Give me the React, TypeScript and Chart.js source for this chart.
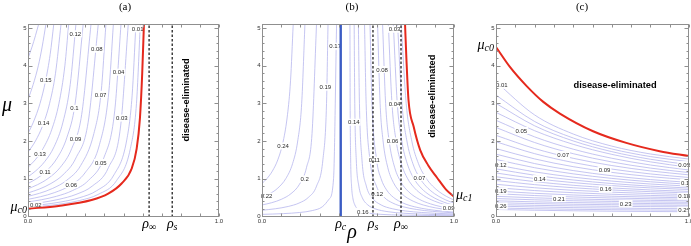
import React, { useEffect, useRef } from "react";
import { Chart, registerables } from "chart.js";

Chart.register(...registerables);

type Pt = [number, number];
type Lbl = [string, number, number];

const W = 691;
const H = 246;

// ---------- shared axes ----------
const X_TICK_LABELS: [string, number][] = [["0.0", 0], ["1.0", 1]];
const Y_TICK_VALUES = [0, 1, 2, 3, 4, 5];
const X_TICK_MARKS = [0, 0.1, 0.2, 0.3, 0.4, 0.5, 0.6, 0.7, 0.8, 0.9, 1];
const Y_MINOR_MARKS = [0.2, 0.4, 0.6, 0.8, 1.2, 1.4, 1.6, 1.8, 2.2, 2.4, 2.6, 2.8, 3.2, 3.4, 3.6, 3.8, 4.2, 4.4, 4.6, 4.8];
const X_RANGE: [number, number] = [0, 1];
const Y_RANGE: [number, number] = [-0.02, 5.11];
const ELIMINATED_TEXT = "disease-eliminated";

// ---------- panel (a) ----------
const A_CONTOURS: Pt[][] = [
  [[0, 4.2], [0.021, 4.5], [0.039, 4.8], [0.056, 5.11]],
  [[0, 3.1], [0.027, 3.5], [0.054, 4.0], [0.074, 4.5], [0.094, 5.11]],
  [[0, 2.2], [0.028, 2.5], [0.063, 3.0], [0.092, 3.6], [0.116, 4.3], [0.135, 5.11]],
  [[0, 1.7], [0.039, 2.0], [0.076, 2.4], [0.113, 3.0], [0.144, 3.8], [0.173, 5.11]],
  [[0, 1.3], [0.038, 1.5], [0.079, 1.8], [0.124, 2.3], [0.162, 3.0], [0.193, 4.0], [0.213, 5.11]],
  [[0, 1.05], [0.039, 1.2], [0.087, 1.45], [0.137, 1.85], [0.183, 2.5], [0.221, 3.5], [0.251, 5.11]],
  [[0, 0.87], [0.045, 1.0], [0.096, 1.2], [0.153, 1.55], [0.204, 2.1], [0.247, 3.0], [0.289, 5.11]],
  [[0, 0.73], [0.05, 0.84], [0.104, 1.0], [0.169, 1.3], [0.229, 1.8], [0.281, 2.7], [0.33, 5.11]],
  [[0, 0.62], [0.058, 0.72], [0.12, 0.87], [0.183, 1.1], [0.251, 1.55], [0.315, 2.5], [0.368, 5.11]],
  [[0, 0.53], [0.06, 0.61], [0.129, 0.74], [0.201, 0.95], [0.276, 1.35], [0.345, 2.2], [0.383, 3.3], [0.408, 5.11]],
  [[0, 0.45], [0.066, 0.52], [0.14, 0.63], [0.218, 0.81], [0.298, 1.15], [0.374, 1.9], [0.423, 3.3], [0.447, 5.11]],
  [[0, 0.38], [0.072, 0.44], [0.149, 0.53], [0.232, 0.68], [0.316, 0.95], [0.397, 1.55], [0.454, 2.8], [0.487, 5.11]],
  [[0, 0.32], [0.076, 0.37], [0.162, 0.45], [0.251, 0.58], [0.336, 0.8], [0.422, 1.3], [0.485, 2.4], [0.525, 5.11]],
  [[0, 0.27], [0.077, 0.31], [0.173, 0.38], [0.268, 0.49], [0.36, 0.68], [0.45, 1.1], [0.516, 2.0], [0.545, 3.2], [0.565, 5.11]],
  [[0, 0.235], [0.08, 0.27], [0.178, 0.33], [0.271, 0.42], [0.367, 0.58], [0.464, 0.95], [0.536, 1.8], [0.568, 3.0], [0.588, 5.11]],
];
const A_BOUNDARY: Pt[] = [[0, 0.2], [0.16, 0.275], [0.333, 0.43], [0.42, 0.6], [0.49, 0.87], [0.543, 1.27], [0.569, 1.8], [0.586, 2.6], [0.598, 3.8], [0.607, 5.11]];
const A_DASHED = [0.634, 0.755];
const A_SUBTICKS: [string, number][] = [["∞", 0.634], ["s", 0.755]];
const A_LABELS: Lbl[] = [
  ["0.01", 0.574, 4.98], ["0.12", 0.248, 4.85], ["0.08", 0.36, 4.44], ["0.15", 0.093, 3.62],
  ["0.04", 0.474, 3.83], ["0.07", 0.38, 3.24], ["0.1", 0.243, 2.87], ["0.03", 0.491, 2.61],
  ["0.14", 0.081, 2.47], ["0.09", 0.249, 2.07], ["0.13", 0.063, 1.67], ["0.05", 0.381, 1.43],
  ["0.11", 0.089, 1.17], ["0.06", 0.227, 0.84], ["0.02", 0.041, 0.29],
];
const A_MU_C0 = 0.2;

// ---------- panel (b) ----------
const B_CONTOURS: Pt[][] = [
  [[0, 0.87], [0.0255, 1.0], [0.0539, 1.2], [0.0823, 1.5], [0.1107, 2.0], [0.1328, 2.7], [0.1486, 3.6], [0.1626, 5.11]],
  [[0, 0.5], [0.0413, 0.6], [0.0827, 0.75], [0.124, 1.0], [0.1594, 1.4], [0.186, 2.0], [0.2067, 3.0], [0.2237, 5.11]],
  [[0, 0.3], [0.0503, 0.36], [0.1006, 0.45], [0.1509, 0.6], [0.1952, 0.85], [0.2321, 1.3], [0.2606, 2.2], [0.284, 5.11]],
  [[0, 0.16], [0.071, 0.2], [0.1365, 0.26], [0.1927, 0.35], [0.2414, 0.5], [0.284, 0.8], [0.3171, 1.5], [0.3361, 3.0], [0.3439, 5.11]],
  [[0, 0.05], [0.1121, 0.07], [0.1962, 0.1], [0.2615, 0.15], [0.3138, 0.25], [0.3487, 0.45], [0.3727, 1.0], [0.3885, 5.11]],
  [[0.458, 5.11], [0.4591, 3], [0.4618, 1.5], [0.4666, 0.8], [0.4727, 0.5], [0.4836, 0.3], [0.4972, 0.2], [0.5243, 0.12], [0.5583, 0.08], [0.6194, 0.05], [0.728, 0.03], [0.864, 0.02], [1, 0.015]],
  [[0.48, 5.11], [0.4832, 3], [0.491, 1.5], [0.5045, 0.8], [0.5217, 0.5], [0.5515, 0.3], [0.5878, 0.2], [0.657, 0.12], [0.7376, 0.08], [0.8687, 0.05], [1, 0.035]],
  [[0.502, 5.11], [0.5075, 3], [0.5207, 1.5], [0.5435, 0.8], [0.572, 0.5], [0.6207, 0.3], [0.6782, 0.2], [0.747, 0.14], [0.8316, 0.1], [0.899, 0.08], [1, 0.06]],
  [[0.534, 5.11], [0.5424, 3], [0.5623, 1.5], [0.596, 0.8], [0.6371, 0.5], [0.6814, 0.35], [0.7364, 0.25], [0.8046, 0.18], [0.8878, 0.13], [1, 0.09]],
  [[0.5625, 5.11], [0.5727, 3], [0.5969, 1.5], [0.6201, 1.0], [0.6488, 0.7], [0.685, 0.5], [0.7352, 0.35], [0.7957, 0.25], [0.868, 0.18], [0.932, 0.14], [1, 0.11]],
  [[0.602, 5.11], [0.6151, 3], [0.6306, 2], [0.6548, 1.3], [0.6839, 0.9], [0.728, 0.6], [0.7872, 0.4], [0.8396, 0.3], [0.906, 0.22], [1, 0.15]],
  [[0.628, 5.11], [0.6438, 3], [0.6623, 2], [0.6908, 1.3], [0.7247, 0.9], [0.7637, 0.65], [0.8196, 0.45], [0.877, 0.33], [0.9359, 0.25], [1, 0.19]],
  [[0.658, 5.11], [0.6769, 3], [0.6987, 2], [0.7254, 1.4], [0.7586, 1.0], [0.7943, 0.75], [0.8413, 0.55], [0.899, 0.4], [0.9588, 0.3], [1, 0.25]],
  [[0.684, 5.11], [0.7045, 3], [0.728, 2], [0.7564, 1.4], [0.7913, 1.0], [0.8285, 0.75], [0.8765, 0.55], [0.9249, 0.42], [0.9667, 0.34], [1, 0.29]],
  [[0.706, 5.11], [0.7287, 3], [0.7547, 2], [0.7857, 1.4], [0.8198, 1.03], [0.8536, 0.8], [0.8986, 0.6], [0.942, 0.47], [0.973, 0.4], [1, 0.35]],
  [[0.725, 5.11], [0.7509, 3], [0.7802, 2], [0.8148, 1.4], [0.8564, 1.0], [0.889, 0.8], [0.923, 0.65], [0.9596, 0.53], [1, 0.43]],
];
const B_BOUNDARY: Pt[] = [[0.745, 5.11], [0.752, 4.2], [0.763, 3.09], [0.79, 2.38], [0.824, 1.76], [0.866, 1.35], [0.911, 1.03], [0.96, 0.7], [1, 0.52]];
const B_RHO_C = 0.41;
const B_DASHED = [0.578, 0.724];
const B_SUBTICKS: [string, number][] = [["c", 0.41], ["s", 0.578], ["∞", 0.724]];
const B_LABELS: Lbl[] = [
  ["0.17", 0.381, 4.52], ["0.19", 0.33, 3.43], ["0.24", 0.11, 1.87], ["0.2", 0.222, 0.99],
  ["0.22", 0.024, 0.53], ["0.14", 0.478, 2.5], ["0.08", 0.625, 3.9], ["0.03", 0.69, 4.97],
  ["0.04", 0.69, 2.99], ["0.06", 0.68, 2.0], ["0.11", 0.585, 1.49], ["0.12", 0.6, 0.6],
  ["0.16", 0.525, 0.13], ["0.07", 0.82, 1.03], ["0.09", 0.972, 0.23],
];
const B_MU_C1 = 0.52;

// ---------- panel (c) ----------
const C_X = [0, 0.2, 0.4, 0.6, 0.8, 1];
const C_LEVEL_Y: number[][] = [
  [3.57, 2.693, 2.186, 1.864, 1.655, 1.52],
  [3.22, 2.519, 2.08, 1.788, 1.586, 1.45],
  [3.0, 2.405, 2.002, 1.717, 1.515, 1.37],
  [2.76, 2.274, 1.912, 1.645, 1.446, 1.3],
  [2.55, 2.11, 1.783, 1.542, 1.362, 1.23],
  [2.36, 1.96, 1.663, 1.443, 1.28, 1.16],
  [2.15, 1.8, 1.54, 1.348, 1.205, 1.1],
  [1.98, 1.664, 1.428, 1.254, 1.125, 1.03],
  [1.8, 1.524, 1.318, 1.166, 1.053, 0.97],
  [1.65, 1.4, 1.214, 1.077, 0.975, 0.9],
  [1.51, 1.29, 1.127, 1.006, 0.916, 0.85],
  [1.37, 1.18, 1.039, 0.935, 0.857, 0.8],
  [1.26, 1.09, 0.964, 0.87, 0.801, 0.75],
  [1.15, 1.003, 0.894, 0.814, 0.754, 0.71],
  [1.05, 0.92, 0.823, 0.752, 0.699, 0.66],
  [0.95, 0.84, 0.758, 0.698, 0.653, 0.62],
  [0.85, 0.758, 0.69, 0.64, 0.603, 0.575],
  [0.76, 0.683, 0.626, 0.584, 0.553, 0.53],
  [0.67, 0.61, 0.565, 0.532, 0.508, 0.49],
  [0.6, 0.55, 0.513, 0.485, 0.465, 0.45],
  [0.53, 0.49, 0.46, 0.438, 0.422, 0.41],
  [0.47, 0.437, 0.412, 0.394, 0.38, 0.37],
  [0.41, 0.383, 0.364, 0.349, 0.338, 0.33],
  [0.36, 0.337, 0.319, 0.307, 0.297, 0.29],
  [0.31, 0.29, 0.275, 0.264, 0.256, 0.25],
  [0.27, 0.247, 0.229, 0.217, 0.207, 0.2],
  [0.22, 0.2, 0.185, 0.174, 0.166, 0.16],
  [0.18, 0.16, 0.145, 0.134, 0.126, 0.12],
];
const C_BOUNDARY: Pt[] = [[0, 4.5], [0.072, 3.97], [0.159, 3.46], [0.245, 3.04], [0.331, 2.73], [0.503, 2.26], [0.675, 1.95], [0.848, 1.73], [1.0, 1.6]];
const C_LABELS: Lbl[] = [
  ["0.01", 0.03, 3.48], ["0.05", 0.131, 2.28], ["0.07", 0.348, 1.64], ["0.12", 0.025, 1.37],
  ["0.14", 0.227, 1.0], ["0.19", 0.025, 0.67], ["0.21", 0.326, 0.47], ["0.26", 0.025, 0.27],
  ["0.09", 0.562, 1.24], ["0.16", 0.568, 0.72], ["0.23", 0.672, 0.34], ["0.03", 0.975, 1.37],
  ["0.1", 0.98, 0.9], ["0.18", 0.975, 0.53], ["0.27", 0.975, 0.16],
];
const C_MU_C0 = 4.5;

// ---------- styles ----------
const FONT_SANS = '"Liberation Sans", Arial, sans-serif';
const FONT_SERIF = '"Liberation Serif", "Times New Roman", serif';
const CONTOUR_COLOR = "#b2b2ec";
const RED = "#e5291d";
const BLUE = "#3b5cc4";
const FRAME = "#8f8f8f";
const CONTOUR_ORDER = 5;

function sym(ctx: CanvasRenderingContext2D, main: string, sub: string, x: number, y: number, align: string, size = 14) {
  const subSize = Math.round(size * 0.72);
  ctx.font = `italic ${size}px ${FONT_SERIF}`;
  const w1 = ctx.measureText(main).width;
  ctx.font = `italic ${subSize}px ${FONT_SERIF}`;
  const w2 = ctx.measureText(sub).width;
  const total = w1 + w2;
  const x0 = align === "left" ? x : align === "center" ? x - total / 2 : x - total;
  ctx.textAlign = "left";
  ctx.textBaseline = "alphabetic";
  ctx.font = `italic ${size}px ${FONT_SERIF}`;
  ctx.fillText(main, x0, y);
  ctx.font = `italic ${subSize}px ${FONT_SERIF}`;
  ctx.fillText(sub, x0 + w1, y + size * 0.18);
}

function lineDs(pts: Pt[], color: string, width: number, order: number, extra: any = {}) {
  return {
    data: pts.map(([x, y]) => ({ x, y })),
    showLine: true,
    borderColor: color,
    backgroundColor: color,
    borderWidth: width,
    pointRadius: 0,
    pointHoverRadius: 0,
    fill: false,
    cubicInterpolationMode: "monotone",
    order,
    ...extra,
  };
}

function vline(v: number, color: string, width: number, order: number, dash: number[] | null) {
  return lineDs([[v, Y_RANGE[0]], [v, Y_RANGE[1]]], color, width, order, {
    cubicInterpolationMode: "default",
    tension: 0,
    borderDash: dash || [],
  });
}

interface Spec {
  key: string;
  box: { l: number; t: number; r: number; b: number };
  datasets: any[];
  labels: Lbl[];
  subTicks: [string, number][];
  title: string;
  titleX: number;
  elim: { x: number; y: number; rotate: boolean };
  extra: (ctx: CanvasRenderingContext2D, px: (v: number) => number, py: (v: number) => number) => void;
}

function drawLabels(chart: any, labels: Lbl[]) {
  const ctx: CanvasRenderingContext2D = chart.ctx;
  const xs = chart.scales.x;
  const ys = chart.scales.y;
  ctx.save();
  ctx.font = `6px ${FONT_SANS}`;
  ctx.textAlign = "center";
  ctx.textBaseline = "middle";
  for (const [t, vx, vy] of labels) {
    const x = xs.getPixelForValue(vx);
    const y = ys.getPixelForValue(vy);
    const w = ctx.measureText(t).width;
    ctx.fillStyle = "#ffffff";
    ctx.fillRect(x - w / 2 - 1, y - 3.5, w + 2, 7);
    ctx.fillStyle = "#2a2a2a";
    ctx.fillText(t, x, y + 0.5);
  }
  ctx.restore();
}

function makePlugin(spec: Spec) {
  let labelsDone = false;
  return {
    id: "decor_" + spec.key,
    beforeDatasetsDraw() {
      labelsDone = false;
    },
    beforeDatasetDraw(chart: any, args: any) {
      const ds = chart.data.datasets[args.index];
      if (!labelsDone && ds.order < CONTOUR_ORDER) {
        drawLabels(chart, spec.labels);
        labelsDone = true;
      }
    },
    afterDatasetsDraw(chart: any) {
      if (!labelsDone) {
        drawLabels(chart, spec.labels);
        labelsDone = true;
      }
      const ctx: CanvasRenderingContext2D = chart.ctx;
      const a = chart.chartArea;
      const px = (v: number) => chart.scales.x.getPixelForValue(v);
      const py = (v: number) => chart.scales.y.getPixelForValue(v);
      ctx.save();

      // frame
      ctx.strokeStyle = FRAME;
      ctx.lineWidth = 1;
      const L = Math.round(a.left) + 0.5;
      const R = Math.round(a.right) - 0.5;
      const T = Math.round(a.top) + 0.5;
      const B = Math.round(a.bottom) - 0.5;
      ctx.strokeRect(L, T, R - L, B - T);

      // inward ticks
      ctx.beginPath();
      for (const v of X_TICK_MARKS) {
        const x = Math.round(px(v)) + 0.5;
        ctx.moveTo(x, B); ctx.lineTo(x, B - 3);
        ctx.moveTo(x, T); ctx.lineTo(x, T + 3);
      }
      for (const v of Y_TICK_VALUES) {
        const y = Math.round(py(v)) + 0.5;
        ctx.moveTo(L, y); ctx.lineTo(L + 4, y);
        ctx.moveTo(R, y); ctx.lineTo(R - 4, y);
      }
      for (const v of Y_MINOR_MARKS) {
        const y = Math.round(py(v)) + 0.5;
        ctx.moveTo(L, y); ctx.lineTo(L + 2, y);
        ctx.moveTo(R, y); ctx.lineTo(R - 2, y);
      }
      ctx.stroke();

      // tick labels
      ctx.fillStyle = "#333333";
      ctx.font = `6px ${FONT_SANS}`;
      ctx.textAlign = "right";
      ctx.textBaseline = "middle";
      for (const v of Y_TICK_VALUES) ctx.fillText(String(v), a.left - 1.5, py(v));
      ctx.textAlign = "center";
      for (const [t, v] of X_TICK_LABELS) ctx.fillText(t, px(v), a.bottom + 4);

      // symbolic ticks
      ctx.fillStyle = "#000000";
      for (const [s, v] of spec.subTicks) sym(ctx, "ρ", s, px(v), 227.5, "center");

      // title
      ctx.font = `11px ${FONT_SERIF}`;
      ctx.textAlign = "center";
      ctx.textBaseline = "middle";
      ctx.fillText(spec.title, spec.titleX, 7);

      // disease-eliminated
      ctx.font = `bold 9.3px ${FONT_SANS}`;
      ctx.textAlign = "center";
      ctx.textBaseline = "middle";
      const ex = px(spec.elim.x);
      const ey = py(spec.elim.y);
      if (spec.elim.rotate) {
        ctx.save();
        ctx.translate(ex, ey);
        ctx.rotate(-Math.PI / 2);
        ctx.fillText(ELIMINATED_TEXT, 0, 0);
        ctx.restore();
      } else {
        ctx.fillText(ELIMINATED_TEXT, ex, ey);
      }

      spec.extra(ctx, px, py);
      ctx.restore();
    },
  };
}

function buildConfig(spec: Spec): any {
  return {
    type: "scatter",
    data: { datasets: spec.datasets },
    options: {
      responsive: false,
      maintainAspectRatio: false,
      animation: false,
      devicePixelRatio: 1,
      events: [],
      layout: {
        padding: { left: spec.box.l, top: spec.box.t, right: W - spec.box.r, bottom: H - spec.box.b },
      },
      plugins: { legend: { display: false }, tooltip: { enabled: false }, title: { display: false } },
      scales: {
        x: { type: "linear", min: X_RANGE[0], max: X_RANGE[1], display: false },
        y: { type: "linear", min: Y_RANGE[0], max: Y_RANGE[1], display: false },
      },
    },
    plugins: [makePlugin(spec)],
  };
}

const contourSets = (lines: Pt[][]) => lines.map((l) => lineDs(l, CONTOUR_COLOR, 0.75, CONTOUR_ORDER));

const SPECS: Spec[] = [
  {
    key: "a",
    box: { l: 28, t: 24, r: 219, b: 217 },
    datasets: [
      lineDs(A_BOUNDARY, RED, 2, 0),
      ...A_DASHED.map((v) => vline(v, "#111111", 1.2, 1, [2.5, 2])),
      ...contourSets(A_CONTOURS),
    ],
    labels: A_LABELS,
    subTicks: A_SUBTICKS,
    title: "(a)",
    titleX: 125,
    elim: { x: 0.832, y: 3.09, rotate: true },
    extra: (ctx, px, py) => {
      ctx.fillStyle = "#000";
      sym(ctx, "μ", "c0", 27, py(A_MU_C0) + 2, "right");
      ctx.font = `italic 20px ${FONT_SERIF}`;
      ctx.textAlign = "center";
      ctx.textBaseline = "alphabetic";
      ctx.fillText("μ", 7, 111);
    },
  },
  {
    key: "b",
    box: { l: 262, t: 24, r: 454, b: 217 },
    datasets: [
      lineDs(B_BOUNDARY, RED, 2, 0),
      vline(B_RHO_C, BLUE, 2.4, 1, null),
      ...B_DASHED.map((v) => vline(v, "#111111", 1.2, 1, [2.5, 2])),
      ...contourSets(B_CONTOURS),
    ],
    labels: B_LABELS,
    subTicks: B_SUBTICKS,
    title: "(b)",
    titleX: 352,
    elim: { x: 0.89, y: 3.19, rotate: true },
    extra: (ctx, px, py) => {
      ctx.fillStyle = "#000";
      sym(ctx, "μ", "c1", 456, py(B_MU_C1) + 2, "left");
      ctx.font = `italic 20px ${FONT_SERIF}`;
      ctx.textAlign = "center";
      ctx.textBaseline = "alphabetic";
      ctx.fillText("ρ", 352, 238);
    },
  },
  {
    key: "c",
    box: { l: 496, t: 24, r: 689, b: 217 },
    datasets: [
      lineDs(C_BOUNDARY, RED, 2, 0),
      ...contourSets(C_LEVEL_Y.map((ys) => ys.map((y, i) => [C_X[i], y] as Pt))),
    ],
    labels: C_LABELS,
    subTicks: [],
    title: "(c)",
    titleX: 582,
    elim: { x: 0.617, y: 3.48, rotate: false },
    extra: (ctx, px, py) => {
      ctx.fillStyle = "#000";
      sym(ctx, "μ", "c0", 494, py(C_MU_C0) + 2, "right");
    },
  },
];

function Panel({ spec }: { spec: Spec }) {
  const ref = useRef<HTMLCanvasElement | null>(null);
  useEffect(() => {
    if (!ref.current) return;
    const chart = new Chart(ref.current, buildConfig(spec));
    return () => chart.destroy();
  }, [spec]);
  return (
    <canvas
      ref={ref}
      width={W}
      height={H}
      style={{ position: "absolute", left: 0, top: 0, width: W, height: H }}
    />
  );
}

export default function App() {
  return (
    <div style={{ position: "absolute", left: 0, top: 0, width: W, height: H, background: "#ffffff", overflow: "hidden" }}>
      {SPECS.map((s) => (
        <Panel key={s.key} spec={s} />
      ))}
    </div>
  );
}
